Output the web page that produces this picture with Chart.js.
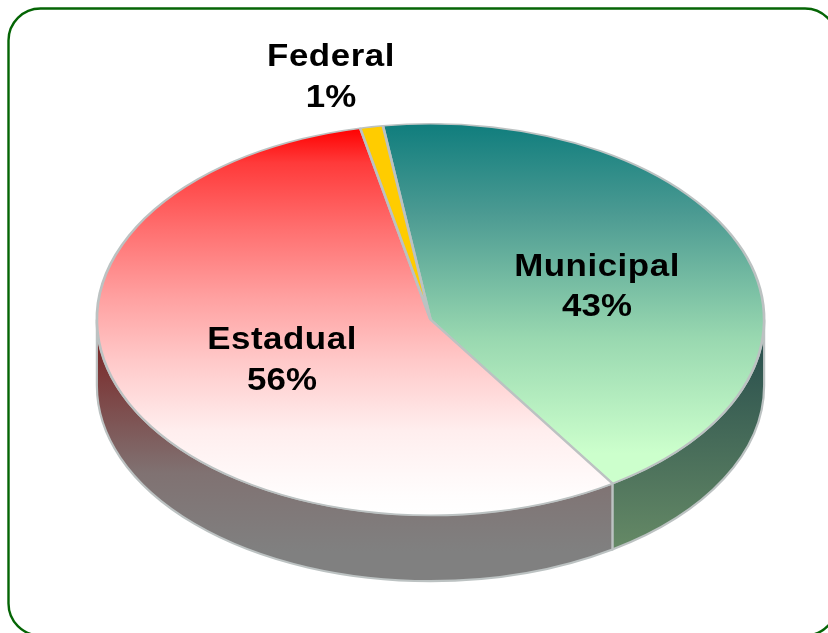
<!DOCTYPE html>
<html>
<head>
<meta charset="utf-8">
<style>
html,body{margin:0;padding:0;background:#fff;overflow:hidden}
canvas{display:block}
</style>
<script src="https://cdn.jsdelivr.net/npm/chart.js@4"></script>
</head>
<body>
<canvas id="c" width="828" height="633"></canvas>
<script>
const categories = ["Municipal", "Estadual", "Federal"];
const shares = [43.1, 55.8, 1.1];
const tickLabels = ["43%", "56%", "1%"];

const STRETCH_X = 335 / 196.5;
const DEPTH = 66;
const EDGE = "#bcc2c2";
const TOP_STOPS = [
  [[0, "#0f7d7d"], [0.25, "#4b9a92"], [0.6, "#99d8b0"], [0.92, "#ccffcc"], [1, "#ccffcc"]],
  [[0, "#ff0000"], [0.09, "#ff3a3a"], [0.263, "#ff7070"], [0.435, "#ffa0a0"], [0.606, "#ffcaca"], [0.78, "#ffeeee"], [0.95, "#fffdfd"], [1, "#ffffff"]],
  [[0, "#ffcc00"], [1, "#ffcc00"]]
];
const SIDE_STOPS = [
  [[0, "#264c4c"], [1, "#668a66"]],
  [[0, "#7a2020"], [0.65, "#807272"], [1, "#808080"]],
  [[0, "#806600"], [1, "#806600"]]
];
const LABEL_PLACES = [[597, 276, 316], [282, 349, 390], [331, 66, 107]];

function vGrad(ctx, y0, y1, stops) {
  const g = ctx.createLinearGradient(0, y0, 0, y1);
  stops.forEach(s => g.addColorStop(s[0], s[1]));
  return g;
}

const TAU = Math.PI * 2;
const pie3d = {
  id: "pie3d",
  beforeDraw(chart) {
    const ctx = chart.ctx;
    ctx.save();
    ctx.fillStyle = "#fff";
    ctx.fillRect(0, 0, chart.width, chart.height);
    ctx.beginPath();
    ctx.roundRect(8.5, 8.5, 828.5, 627, 32);
    ctx.strokeStyle = "#056505";
    ctx.lineWidth = 2.4;
    ctx.stroke();
    ctx.restore();
  },
  beforeDatasetsDraw(chart) {
    const ctx = chart.ctx;
    const arcs = chart.getDatasetMeta(0).data;
    ctx.save();
    arcs.forEach((arc, i) => {
      let a0 = arc.startAngle, a1 = arc.endAngle;
      const shift = Math.floor(a0 / TAU) * TAU;
      a0 -= shift; a1 -= shift;
      const ranges = [[a0, Math.min(a1, Math.PI)], [Math.max(a0, TAU), Math.min(a1, TAU + Math.PI)]];
      ranges.forEach(([s, e]) => {
        if (e <= s) return;
        const rx = arc.outerRadius * STRETCH_X, ry = arc.outerRadius;
        ctx.beginPath();
        ctx.ellipse(arc.x, arc.y, rx, ry, 0, s, e);
        ctx.ellipse(arc.x, arc.y + DEPTH, rx, ry, 0, e, s, true);
        ctx.closePath();
        ctx.fillStyle = vGrad(ctx, arc.y + 10, arc.y + ry + DEPTH - 30, SIDE_STOPS[i]);
        ctx.fill();
        ctx.strokeStyle = EDGE;
        ctx.lineWidth = 2.2;
        ctx.stroke();
      });
    });
    ctx.restore();
    const cx = arcs[0].x;
    ctx.save();
    ctx.translate(cx, 0);
    ctx.scale(STRETCH_X, 1);
    ctx.translate(-cx, 0);
  },
  afterDatasetsDraw(chart) {
    const ctx = chart.ctx;
    ctx.restore();
    ctx.fillStyle = "#000";
    ctx.font = "bold 32px 'Liberation Sans', Arial, sans-serif";
    ctx.textAlign = "center";
    ctx.textBaseline = "alphabetic";
    LABEL_PLACES.forEach((p, i) => {
      ctx.save();
      ctx.translate(p[0], 0);
      ctx.scale(1.09, 1);
      ctx.letterSpacing = "0.5px";
      ctx.fillText(categories[i], 0, p[1]);
      ctx.letterSpacing = "0px";
      ctx.fillText(tickLabels[i], 0, p[2]);
      ctx.restore();
    });
  }
};

new Chart(document.getElementById("c"), {
  type: "pie",
  plugins: [pie3d],
  data: {
    labels: categories,
    datasets: [{
      data: shares,
      backgroundColor(c) {
        const a = c.chart.chartArea;
        if (!a) return "#ccc";
        const spans = [[123, 482], [128, 516], [123, 516]];
        const s = spans[c.dataIndex];
        return vGrad(c.chart.ctx, s[0], s[1], TOP_STOPS[c.dataIndex]);
      },
      borderColor: EDGE,
      borderWidth: 1.6,
      clip: false
    }]
  },
  options: {
    responsive: false,
    animation: false,
    events: [],
    rotation: -8.2,
    layout: { padding: { left: 96, right: 63, top: 123, bottom: 117 } },
    plugins: { legend: { display: false }, tooltip: { enabled: false } }
  }
});
</script>
</body>
</html>
